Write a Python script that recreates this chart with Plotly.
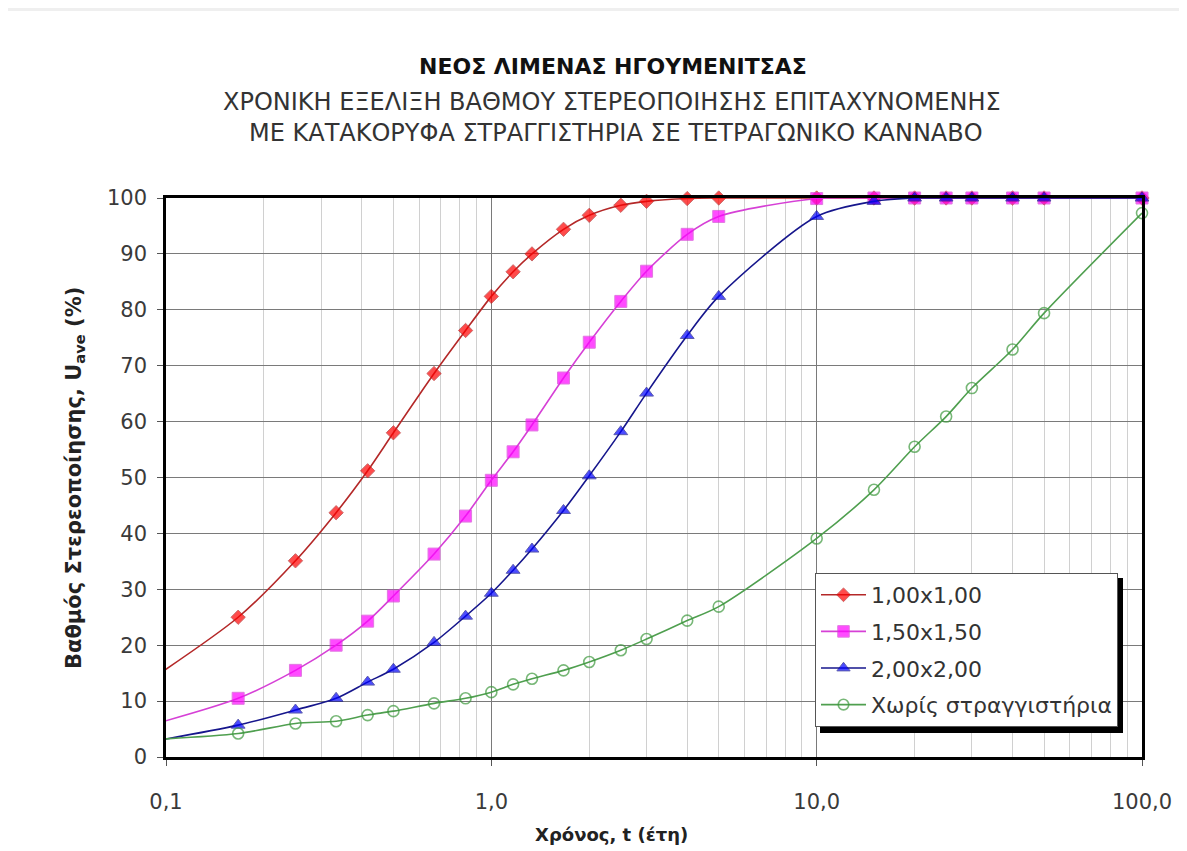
import plotly.graph_objects as go

# time in years (first point = 1 month, lies left of the visible axis range)
t_years = [1/12, 1/6, 0.25, 1/3, 5/12, 0.5, 2/3, 5/6, 1.0, 7/6, 4/3, 5/3, 2.0, 2.5, 3.0,
           4.0, 5.0, 10.0, 15.0, 20.0, 25.0, 30.0, 40.0, 50.0, 100.0]

u_100 = [12.6, 25.0, 35.1, 43.7, 51.2, 58.0, 68.6, 76.3, 82.4, 86.8, 90.0, 94.4, 96.9, 98.7, 99.4,
         99.9, 100.0, 100.0, 100.0, 100.0, 100.0, 100.0, 100.0, 100.0, 100.0]
u_150 = [5.2, 10.5, 15.5, 20.0, 24.3, 28.8, 36.3, 43.1, 49.5, 54.6, 59.4, 67.8, 74.2, 81.5, 86.9,
         93.5, 96.7, 99.9, 100.0, 100.0, 100.0, 100.0, 100.0, 100.0, 100.0]
u_200 = [2.4, 5.7, 8.4, 10.5, 13.4, 15.7, 20.5, 25.2, 29.3, 33.4, 37.2, 44.1, 50.3, 58.2, 65.1,
         75.4, 82.4, 96.7, 99.4, 100.0, 100.0, 100.0, 100.0, 100.0, 100.0]
u_none = [3.0, 4.2, 6.0, 6.4, 7.5, 8.2, 9.6, 10.5, 11.6, 13.0, 14.0, 15.5, 17.0, 19.1, 21.1,
          24.4, 26.9, 39.1, 47.8, 55.5, 60.9, 66.0, 72.9, 79.4, 97.3]

series_names = ["1,00x1,00", "1,50x1,50", "2,00x2,00", "Χωρίς στραγγιστήρια"]

x_tickvals = [0.1, 1, 10, 100]
x_ticktext = ["0,1", "1,0", "10,0", "100,0"]

title_lines = ["ΝΕΟΣ ΛΙΜΕΝΑΣ ΗΓΟΥΜΕΝΙΤΣΑΣ",
               "ΧΡΟΝΙΚΗ ΕΞΕΛΙΞΗ ΒΑΘΜΟΥ ΣΤΕΡΕΟΠΟΙΗΣΗΣ ΕΠΙΤΑΧΥΝΟΜΕΝΗΣ",
               "ΜΕ ΚΑΤΑΚΟΡΥΦΑ ΣΤΡΑΓΓΙΣΤΗΡΙΑ ΣΕ ΤΕΤΡΑΓΩΝΙΚΟ ΚΑΝΝΑΒΟ"]
y_title = "Βαθμός Στερεοποίησης, U<sub>ave</sub> (%)"
x_title = "Χρόνος, t (έτη)"

FONT = "DejaVu Sans"
OFF = 8                      # page (body) margin around the figure
W, H = 1187 - OFF, 851 - OFF
L, R, T, B = 166 - OFF, 45, 198 - OFF, 94
PW, PH = W - L - R, H - T - B


def px_x(px):
    """screenshot pixel x -> paper coordinate"""
    return (px - OFF - L) / PW


def px_y(py):
    """screenshot pixel y -> paper coordinate"""
    return (H - B - (py - OFF)) / PH


styles = [
    dict(line=dict(color="#b42828", width=1.6),
         marker=dict(symbol="diamond", color="#ff0000", size=11)),
    dict(line=dict(color="#d640d6", width=1.6),
         marker=dict(symbol="square", color="#ff00ff", size=12)),
    dict(line=dict(color="#16168c", width=1.6),
         marker=dict(symbol="triangle-up", color="#0000ff", size=12)),
    dict(line=dict(color="#4f9f4f", width=1.6),
         marker=dict(symbol="circle-open", color="#3d993d", size=11, line=dict(width=1.6))),
]

fig = go.Figure()
for name, ys, st in zip(series_names, [u_100, u_150, u_200, u_none], styles):
    base = st["marker"]["size"]
    sizes = [0 if t < 0.1 else base for t in t_years]
    mk = dict(st["marker"])
    mk["size"] = sizes
    fig.add_trace(go.Scatter(
        x=t_years, y=ys, name=name, mode="lines+markers",
        line=dict(shape="spline", smoothing=0.8, **st["line"]),
        marker=mk, cliponaxis=False, legendgroup=name,
    ))

minor_vals = [k * 10 ** e for e in (-1, 0, 1) for k in range(2, 10)]

fig.update_xaxes(
    type="log", range=[-1, 2],
    tickmode="array", tickvals=x_tickvals, ticktext=x_ticktext,
    ticks="outside", ticklen=6, tickcolor="#555", tickwidth=1,
    ticklabelstandoff=18,
    showgrid=True, gridcolor="#7a7a7a", gridwidth=1.4,
    minor=dict(tickmode="array", tickvals=minor_vals, showgrid=True,
               gridcolor="#d0d0d0", gridwidth=1, ticks=""),
    showline=True, linecolor="#000", linewidth=2.5, mirror=True,
    tickfont=dict(family=FONT, size=21, color="#3a3a3a"),
    zeroline=False,
)
fig.update_yaxes(
    range=[0, 100], dtick=10, tick0=0,
    ticks="outside", ticklen=6, tickcolor="#555", tickwidth=1,
    ticklabelstandoff=6,
    showgrid=True, gridcolor="#7a7a7a", gridwidth=1.4,
    showline=True, linecolor="#000", linewidth=2.5, mirror=True,
    tickfont=dict(family=FONT, size=21, color="#3a3a3a"),
    zeroline=False,
)

annotations = [
    dict(text="<b>" + title_lines[0] + "</b>", x=px_x(613), y=px_y(66),
         font=dict(family=FONT, size=22, color="#111")),
    dict(text=title_lines[1], x=px_x(612), y=px_y(102),
         font=dict(family=FONT, size=24, color="#333")),
    dict(text=title_lines[2], x=px_x(616), y=px_y(133),
         font=dict(family=FONT, size=24, color="#333")),
    dict(text="<b>" + y_title + "</b>", x=px_x(75), y=px_y(478), textangle=-90,
         font=dict(family=FONT, size=21, color="#222")),
    dict(text="<b>" + x_title + "</b>", x=px_x(611), y=px_y(834),
         font=dict(family=FONT, size=18, color="#222")),
]
for a in annotations:
    a.update(xref="paper", yref="paper", showarrow=False, xanchor="center", yanchor="middle")

shapes = [
    # page background bands
    dict(type="rect", xref="paper", yref="paper", x0=px_x(-20), x1=px_x(1220),
         y0=px_y(11), y1=px_y(-20), fillcolor="#efefef", line=dict(width=0), layer="below"),
    dict(type="rect", xref="paper", yref="paper", x0=px_x(-20), x1=px_x(8),
         y0=px_y(880), y1=px_y(-20), fillcolor="#efefef", line=dict(width=0), layer="below"),
    # legend shadow
    dict(type="rect", xref="paper", yref="paper", x0=px_x(820), x1=px_x(1123),
         y0=px_y(733), y1=px_y(578), fillcolor="#000", line=dict(width=0), layer="above"),
]

fig.update_layout(
    width=W, height=H,
    margin=dict(l=L, r=R, t=T, b=B, autoexpand=False),
    paper_bgcolor="#ffffff", plot_bgcolor="#ffffff",
    font=dict(family=FONT, color="#333"),
    showlegend=True,
    legend=dict(x=px_x(815), y=px_y(573), xanchor="left", yanchor="top",
                bgcolor="#ffffff", bordercolor="#555", borderwidth=1,
                font=dict(family=FONT, size=22, color="#333"),
                traceorder="grouped", tracegroupgap=5, itemwidth=45),
    annotations=annotations,
    shapes=shapes,
)

fig.write_html("out.html")
